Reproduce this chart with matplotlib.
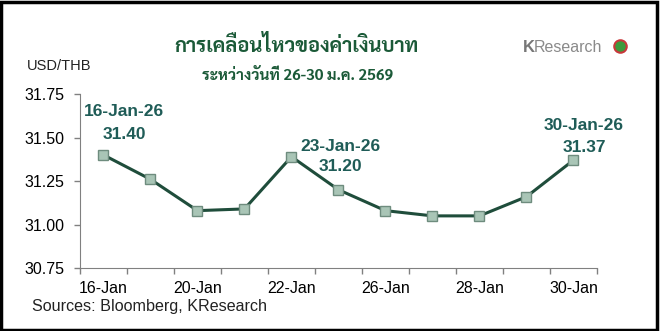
import matplotlib
matplotlib.use("Agg")
import matplotlib.pyplot as plt
from matplotlib.patches import Rectangle

# data
dates = ["16-Jan", "19-Jan", "20-Jan", "21-Jan", "22-Jan", "23-Jan",
         "26-Jan", "27-Jan", "28-Jan", "29-Jan", "30-Jan"]
usdthb = [31.40, 31.26, 31.08, 31.09, 31.39, 31.20,
          31.08, 31.05, 31.05, 31.16, 31.37]
yticks = [30.75, 31.00, 31.25, 31.50, 31.75]
notes = [(0, "16-Jan-26", "31.40"), (5, "23-Jan-26", "31.20"), (10, "30-Jan-26", "31.37")]

plt.rcParams['font.family'] = ['Liberation Sans', 'DejaVu Sans']
green = '#1f4d3b'
teal = '#1f5c57'
thai = ['Sarabun', 'DejaVu Sans']

fig = plt.figure(figsize=(6.6, 3.31), dpi=100)
ax = fig.add_axes([0.1212, 0.190, 0.7833, 0.526])

x = list(range(len(dates)))
ax.plot(x, usdthb, color=green, lw=2.2, marker='s', ms=7,
        mfc='#a9c5b6', mec='#6e8c7e', mew=1.0, zorder=3)

ax.set_xlim(-0.5, len(dates) - 0.5)
ax.set_ylim(yticks[0], yticks[-1])
ax.set_yticks(yticks)
ax.set_yticklabels(["%.2f" % v for v in yticks])

ax.set_xticks([i - 0.5 for i in range(len(dates) + 1)])
ax.set_xticklabels([])
ax.set_xticks(x[::2], minor=True)
ax.set_xticklabels(dates[::2], minor=True)
ax.tick_params(axis='both', which='major', length=4, direction='out',
               color='#808080', labelsize=11.5, width=1)
ax.tick_params(axis='y', pad=7)
ax.tick_params(axis='x', which='minor', length=0, pad=9, labelsize=11.5)

for s in ['top', 'right']:
    ax.spines[s].set_visible(False)
for s in ['left', 'bottom']:
    ax.spines[s].set_color('#808080')

offsets = {0: ((15, 31), (15, 15)), 5: ((1.5, 31), (1.5, 16.5)), 10: ((7, 25), (8, 9))}
for i, d, v in notes:
    o1, o2 = offsets[i]
    ax.annotate(d, (x[i], usdthb[i]), xytext=o1, textcoords='offset points',
                ha='center', va='center', fontsize=12.5, fontweight='bold', color=teal)
    ax.annotate(v, (x[i], usdthb[i]), xytext=o2, textcoords='offset points',
                ha='center', va='center', fontsize=12.5, fontweight='bold', color=teal)

fig.text(296 / 660, 1 - 45 / 331, "การเคลื่อนไหวของค่าเงินบาท", ha='center', va='center',
         fontsize=14.5, fontweight='bold', color='#1b5a38', family=thai)
fig.text(298 / 660, 1 - 75 / 331, "ระหว่างวันที่ 26-30 ม.ค. 2569", ha='center', va='center',
         fontsize=11, fontweight='bold', color='#1b5a38', family=thai)
fig.text(27 / 660, 1 - 66 / 331, "USD/THB", ha='left', va='center', fontsize=10.5, color='#222222')
fig.text(32 / 660, 1 - 306 / 331, "Sources: Bloomberg, KResearch", ha='left', va='center',
         fontsize=11.6, color='#222222')

# logo
fig.text(523 / 660, 1 - 47 / 331, "K", ha='left', va='center', fontsize=12,
         fontweight='bold', color='#777777')
fig.text(534 / 660, 1 - 47 / 331, "Research", ha='left', va='center', fontsize=11.5,
         color='#8a8a8a')
fig.add_artist(plt.Line2D([620 / 660], [1 - 46 / 331], marker='o', ms=9, mfc='#3c9a3c',
                          mec='#c8383b', mew=1.5, transform=fig.transFigure))

fig.add_artist(Rectangle((0.001, 0.004), 0.995, 0.99, transform=fig.transFigure,
                         fill=False, ec='black', lw=2.5))

fig.savefig("out.png")
